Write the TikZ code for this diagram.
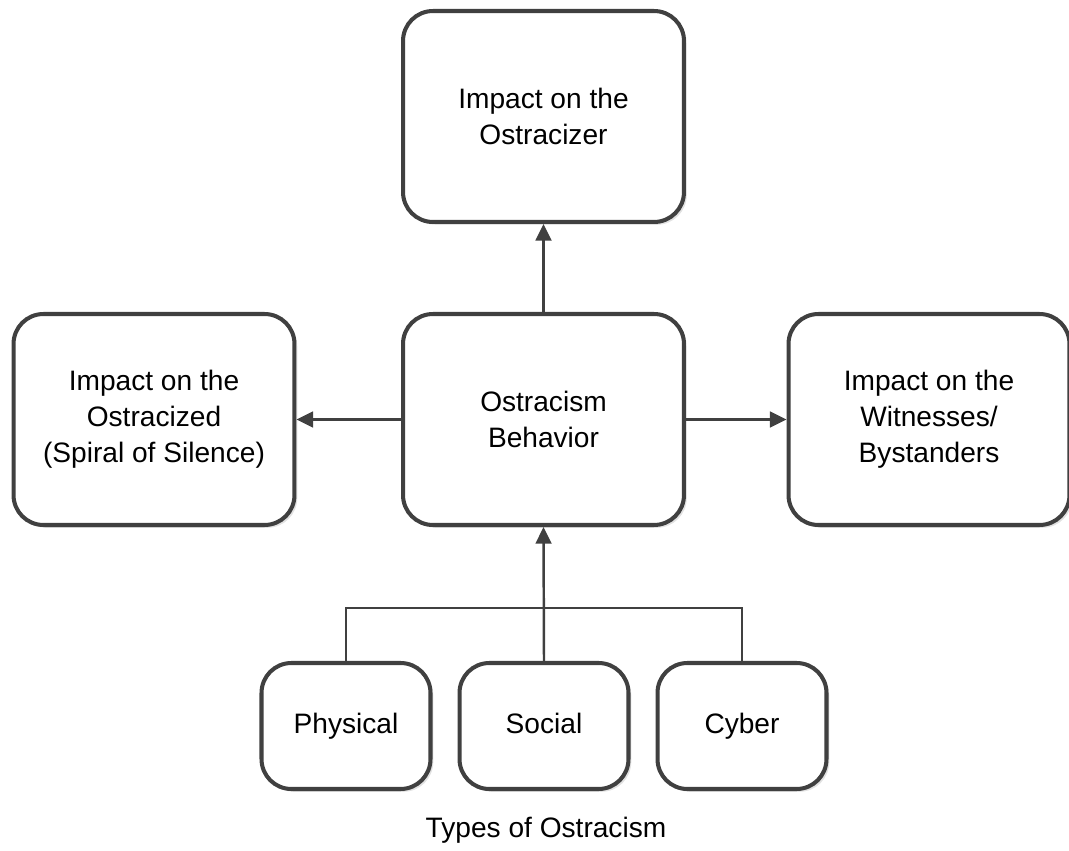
\documentclass[tikz,border=0pt]{standalone}
\usepackage{fontspec}
\setmainfont{Liberation Sans}
\usetikzlibrary{arrows.meta,shadows}
\definecolor{rand}{HTML}{404040}
\definecolor{schatten}{HTML}{E2E2E2}
\tikzset{
  feld/.style={draw=rand,fill=white,line width=2.3pt,rounded corners=17pt,
    align=center,inner sep=2pt,
    drop shadow={shadow xshift=1.6pt,shadow yshift=-1.6pt,fill=schatten,opacity=1},
    font=\fontsize{16}{20.5}\selectfont},
  gross/.style={feld,minimum width=5.62cm,minimum height=4.22cm},
  klein/.style={feld,minimum width=3.38cm,minimum height=2.52cm,
    text height=11.5pt,text depth=3.5pt},
  pfeil/.style={-{Triangle[length=9.5pt,width=9pt]},rand,line width=1.4pt},
  linie/.style={rand,line width=1.2pt},
}

\begin{document}
\begin{tikzpicture}[x=0.02cm,y=-0.02cm]
  \useasboundingbox (0,0) rectangle (1069,851);
  % main boxes
  \node[gross] (top) at (543.5,116.5) {Impact on the\\Ostracizer};
  \node[gross] (mitte) at (543.5,419.5) {Ostracism\\Behavior};
  \node[gross] (links) at (154,419.5) {Impact on the\\Ostracized\\(Spiral of Silence)};
  \node[gross] (rechts) at (929,419.5) {Impact on the\\Witnesses/\\Bystanders};
  % types
  \node[klein] (phys) at (346,726) {Physical};
  \node[klein] (soz) at (544,726) {Social};
  \node[klein] (cyb) at (742,726) {Cyber};
  \node[font=\fontsize{16}{20.5}\selectfont] (typen) at (546,830) {Types of Ostracism};
  % connectors
  \draw[pfeil] (mitte) -- (top);
  \draw[pfeil] (mitte) -- (links);
  \draw[pfeil] (mitte) -- (rechts);
  \coordinate (bus) at (544,608);
  \draw[linie] (phys.north) |- (bus) -| (cyb.north);
  \draw[pfeil] (soz.north) -- (mitte.south);
\end{tikzpicture}
\end{document}
